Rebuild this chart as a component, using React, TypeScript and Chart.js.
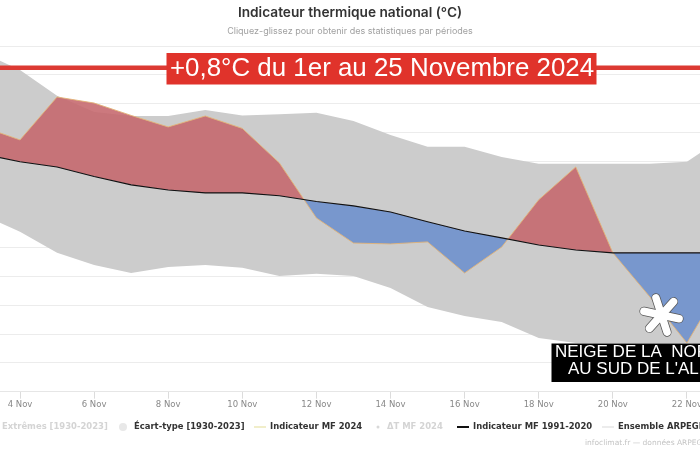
import React, { useEffect, useRef } from "react";
import { Chart, registerables } from "chart.js";

Chart.register(...registerables);

const days = [3, 4, 5, 6, 7, 8, 9, 10, 11, 12, 13, 14, 15, 16, 17, 18, 19, 20, 21, 22, 23];
const sdUpper = [13.76, 13.17, 12.27, 11.71, 11.57, 11.57, 11.78, 11.59, 11.63, 11.68, 11.4, 10.91, 10.5, 10.5, 10.15, 9.91, 9.91, 9.91, 9.91, 9.98, 10.84];
const sdLower = [8.14, 7.55, 6.82, 6.4, 6.12, 6.33, 6.4, 6.3, 6.02, 6.09, 6.02, 5.6, 4.94, 4.63, 4.42, 3.86, 3.69, 3.69, 3.69, 3.69, 3.69];
const mf2024 = [11.19, 10.74, 12.23, 12.02, 11.59, 11.19, 11.57, 11.14, 9.94, 8.03, 7.16, 7.13, 7.2, 6.12, 7.02, 8.66, 9.8, 6.82, 5.29, 3.69, 5.88];
const mfNormal = [10.25, 9.98, 9.8, 9.47, 9.18, 9.0, 8.9, 8.9, 8.8, 8.6, 8.45, 8.24, 7.9, 7.58, 7.34, 7.09, 6.92, 6.82, 6.82, 6.82, 6.82];

const titleText = "Indicateur thermique national (°C)";
const subtitleText = "Cliquez-glissez pour obtenir des statistiques par périodes";
const bannerText = "+0,8°C du 1er au 25 Novembre 2024";
const snowLines = ["NEIGE DE LA  NOR", "AU SUD DE L'AL"];
const footerText = "infoclimat.fr — données ARPEGE MF";

const legendItems = [
  { label: "Extrêmes [1930-2023]", kind: "none", x: 2, faded: true },
  { label: "Écart-type [1930-2023]", kind: "dot", x: 134, faded: false, color: "#e8e8e8" },
  { label: "Indicateur MF 2024", kind: "line", x: 270, faded: false, color: "#ece8b8" },
  { label: "ΔT MF 2024", kind: "small", x: 387, faded: true, color: "#d8d8d8" },
  { label: "Indicateur MF 1991-2020", kind: "line", x: 473, faded: false, color: "#111111" },
  { label: "Ensemble ARPEGE", kind: "line", x: 618, faded: false, color: "#e6e6e6" },
];

const points = (values: number[]) => days.map((d, i) => ({ x: d, y: values[i] }));

const overlay = {
  id: "overlay",
  afterDraw(chart: any) {
    const c = chart.ctx as CanvasRenderingContext2D;
    c.save();
    // red banner
    c.fillStyle = "#dc3a33";
    c.fillRect(0, 65.5, 700, 4.5);
    c.fillStyle = "#e0332b";
    c.fillRect(166.5, 53, 430, 31.5);
    c.fillStyle = "#ffffff";
    c.font = '25.9px "Liberation Sans"';
    c.textAlign = "left";
    c.textBaseline = "middle";
    c.fillText(bannerText, 170, 68.5);
    // snow flake
    const cx = 661.5;
    const cy = 315;
    const arm = 18;
    const drawArms = (w: number, col: string) => {
      c.strokeStyle = col;
      c.lineWidth = w;
      c.lineCap = "round";
      for (let i = 0; i < 3; i++) {
        const a = (-108 + i * 60) * (Math.PI / 180);
        c.beginPath();
        c.moveTo(cx - Math.cos(a) * arm, cy - Math.sin(a) * arm);
        c.lineTo(cx + Math.cos(a) * arm, cy + Math.sin(a) * arm);
        c.stroke();
      }
    };
    drawArms(9, "#555555");
    drawArms(7.5, "#ffffff");
    // black label
    c.fillStyle = "#000000";
    c.fillRect(551.5, 343.5, 150, 38.5);
    c.fillStyle = "#ffffff";
    c.font = '17px "Liberation Sans"';
    c.fillText(snowLines[0], 555, 352.5);
    c.fillText(snowLines[1], 568, 369.5);
    // legend
    c.font = 'bold 8.45px "DejaVu Sans"';
    legendItems.forEach((it) => {
      c.fillStyle = it.faded ? "#d4d4d4" : "#333333";
      c.fillText(it.label, it.x, 427);
      if (it.kind === "line") {
        c.strokeStyle = it.color as string;
        c.lineWidth = it.color === "#111111" ? 2 : 1.5;
        c.lineCap = "butt";
        c.beginPath();
        c.moveTo(it.x - 16, 427);
        c.lineTo(it.x - 4, 427);
        c.stroke();
      } else if (it.kind === "dot" || it.kind === "small") {
        c.fillStyle = it.color as string;
        c.beginPath();
        c.arc(it.x - (it.kind === "dot" ? 11 : 9), 427, it.kind === "dot" ? 4 : 1.5, 0, Math.PI * 2);
        c.fill();
      }
    });
    // credits
    c.fillStyle = "#c4c4c4";
    c.font = '7.5px "DejaVu Sans"';
    c.fillText(footerText, 585, 443.5);
    c.restore();
  },
};

export default function App() {
  const ref = useRef<HTMLCanvasElement>(null);
  useEffect(() => {
    const chart = new Chart(ref.current as HTMLCanvasElement, {
      type: "line",
      data: {
        datasets: [
          {
            label: "Écart-type [1930-2023]",
            data: points(sdUpper),
            borderWidth: 0,
            pointRadius: 0,
            backgroundColor: "#cccccc",
            fill: "+1",
            order: 3,
          },
          {
            label: "Écart-type bas",
            data: points(sdLower),
            borderWidth: 0,
            pointRadius: 0,
            fill: false,
            order: 3,
          },
          {
            label: "Indicateur MF 2024",
            data: points(mf2024),
            borderColor: "rgba(226,180,120,0.9)",
            borderWidth: 1,
            pointRadius: 0,
            fill: {
              target: 3,
              above: "rgba(197,102,108,0.88)",
              below: "rgba(105,141,205,0.85)",
            },
            order: 2,
          },
          {
            label: "Indicateur MF 1991-2020",
            data: points(mfNormal),
            borderColor: "#111111",
            borderWidth: 1.1,
            pointRadius: 0,
            fill: false,
            order: 1,
          },
        ],
      } as any,
      options: {
        animation: false,
        responsive: false,
        maintainAspectRatio: false,
        layout: { padding: 0 },
        plugins: {
          legend: { display: false },
          tooltip: { enabled: false },
          title: {
            display: true,
            text: titleText,
            color: "#333333",
            font: { family: "Inter", size: 13.7, weight: 600 },
            padding: { top: 5, bottom: 4 },
          },
          subtitle: {
            display: true,
            text: subtitleText,
            color: "#a0a0a0",
            font: { family: "Inter", size: 9, weight: 400 },
            padding: { top: 0, bottom: 9.76 },
          },
        },
        scales: {
          x: {
            type: "linear",
            min: 3.46,
            max: 22.353,
            afterBuildTicks(scale: any) {
              scale.ticks = days.filter((d) => d % 2 === 0).map((d) => ({ value: d }));
            },
            afterFit(scale: any) {
              scale.height = 58.3;
              scale.paddingLeft = 0;
              scale.paddingRight = 0;
            },
            grid: { drawOnChartArea: false, drawTicks: true, tickLength: 7, color: "#dcdcdc" },
            border: { color: "#e6e6e6" },
            ticks: {
              color: "#888888",
              font: { family: "DejaVu Sans", size: 8.5 },
              maxRotation: 0,
              padding: 1,
              callback: (v: any) => `${v} Nov`,
            },
          },
          y: {
            min: 2,
            max: 14,
            afterFit(scale: any) {
              scale.width = 0;
              scale.paddingTop = 0;
              scale.paddingBottom = 0;
            },
            grid: { color: "#ececec", drawTicks: false },
            border: { display: false },
            ticks: { display: false, stepSize: 1 },
          },
        },
      } as any,
      plugins: [overlay],
    });
    return () => chart.destroy();
  }, []);
  return (
    <div style={{ position: "fixed", left: 0, top: 0, width: 700, height: 450, background: "#fff" }}>
      <canvas ref={ref} width={700} height={450} style={{ display: "block" }} />
    </div>
  );
}
